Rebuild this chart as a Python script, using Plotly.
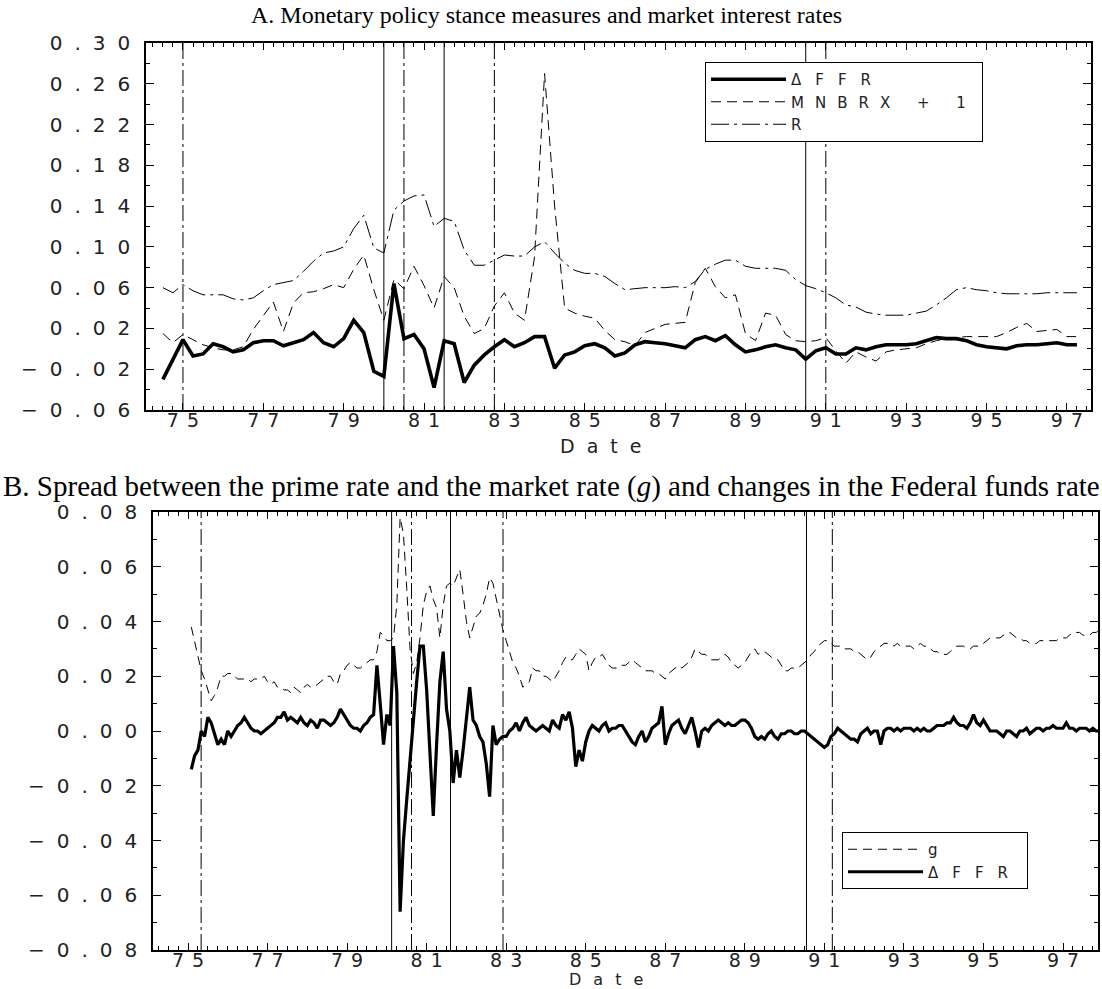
import pandas as pd
import plotly.graph_objects as go

# ---------------- Panel A: quarterly, 1974Q3 - 1997Q2 ----------------
quarters_a = pd.period_range("1974Q3", "1997Q2", freq="Q")

dffr_a = [
    -0.030, -0.011, 0.009, -0.007, -0.005, 0.005, 0.002, -0.003, -0.001, 0.006,
    0.008, 0.008, 0.003, 0.006, 0.009, 0.016, 0.006, 0.002, 0.010, 0.028,
    0.016, -0.022, -0.027, 0.064, 0.010, 0.014, 0.000, -0.038, 0.008, 0.005,
    -0.033, -0.016, -0.006, 0.002, 0.009, 0.002, 0.006, 0.012, 0.012, -0.019,
    -0.006, -0.003, 0.003, 0.005, 0.001, -0.007, -0.004, 0.004, 0.007, 0.006,
    0.005, 0.003, 0.001, 0.009, 0.012, 0.008, 0.013, 0.004, -0.003, -0.001,
    0.002, 0.004, 0.001, -0.001, -0.010, -0.002, 0.001, -0.005, -0.005, 0.001,
    -0.001, 0.002, 0.004, 0.004, 0.004, 0.005, 0.008, 0.011, 0.010, 0.010,
    0.008, 0.004, 0.002, 0.001, 0.000, 0.003, 0.004, 0.004, 0.005, 0.006,
    0.004, 0.004,
]

mnbrx_a = [
    0.015, 0.006, 0.014, 0.009, 0.004, 0.001, -0.001, -0.001, 0.002, 0.019,
    0.033, 0.046, 0.017, 0.045, 0.055, 0.056, 0.059, 0.063, 0.060, 0.078,
    0.092, 0.058, 0.028, 0.068, 0.059, 0.081, 0.062, 0.040, 0.071, 0.060,
    0.032, 0.015, 0.020, 0.042, 0.055, 0.035, 0.028, 0.090, 0.270, 0.140,
    0.040, 0.035, 0.032, 0.030, 0.018, 0.009, 0.007, 0.003, 0.016, 0.020,
    0.024, 0.025, 0.026, 0.065, 0.079, 0.061, 0.050, 0.053, 0.015, 0.008,
    0.035, 0.033, 0.014, 0.008, 0.007, 0.008, 0.011, -0.002, -0.014, -0.003,
    -0.008, -0.012, -0.003, -0.001, 0.000, 0.001, 0.005, 0.008, 0.010, 0.011,
    0.012, 0.012, 0.012, 0.012, 0.016, 0.021, 0.025, 0.017, 0.018, 0.019,
    0.012, 0.012,
]

r_a = [
    0.060, 0.055, 0.063, 0.057, 0.053, 0.053, 0.053, 0.049, 0.048, 0.050,
    0.057, 0.063, 0.065, 0.067, 0.076, 0.086, 0.094, 0.096, 0.100, 0.118,
    0.131, 0.099, 0.094, 0.136, 0.145, 0.150, 0.151, 0.120, 0.128, 0.125,
    0.097, 0.082, 0.082, 0.087, 0.092, 0.091, 0.091, 0.100, 0.105, 0.094,
    0.084, 0.077, 0.074, 0.074, 0.071, 0.064, 0.058, 0.059, 0.060, 0.060,
    0.060, 0.061, 0.060, 0.066, 0.078, 0.083, 0.087, 0.087, 0.081, 0.079,
    0.079, 0.079, 0.077, 0.068, 0.062, 0.059, 0.055, 0.050, 0.043, 0.041,
    0.036, 0.034, 0.033, 0.033, 0.033, 0.035, 0.037, 0.043, 0.050, 0.058,
    0.060, 0.058, 0.057, 0.055, 0.054, 0.054, 0.054, 0.054, 0.055, 0.055,
    0.055, 0.055,
]

# ---------------- Panel B: monthly, 1975:02 - 1997:12 ----------------
months_b = pd.period_range("1975-02", "1997-12", freq="M")

dffr_b = [
    # 1975 (Feb-Dec)
    -0.014, -0.009, -0.007, 0.000, -0.002, 0.005, 0.003, -0.001, -0.005, -0.003, -0.005,
    # 1976
    0.000, -0.002, 0.000, 0.002, 0.003, 0.005, 0.003, 0.001, 0.000, 0.000, -0.001, 0.000,
    # 1977
    0.001, 0.002, 0.003, 0.005, 0.005, 0.007, 0.004, 0.005, 0.004, 0.003, 0.005, 0.003,
    # 1978
    0.002, 0.004, 0.003, 0.001, 0.004, 0.004, 0.003, 0.002, 0.003, 0.005, 0.008, 0.006,
    # 1979
    0.004, 0.002, 0.001, 0.001, 0.000, 0.002, 0.003, 0.005, 0.006, 0.024, 0.010, -0.005,
    # 1980
    0.006, 0.002, 0.031, 0.014, -0.066, -0.040, -0.025, -0.010, 0.004, 0.018, 0.031, 0.031,
    # 1981
    0.015, -0.010, -0.031, -0.005, 0.018, 0.029, 0.008, 0.000, -0.019, -0.007, -0.017, -0.007,
    # 1982
    0.004, 0.016, 0.004, 0.002, -0.002, -0.004, -0.012, -0.024, 0.002, -0.005, -0.003, -0.002,
    # 1983
    -0.002, 0.000, 0.001, 0.003, 0.000, 0.003, 0.005, 0.002, 0.001, 0.000, 0.001, 0.002,
    # 1984
    0.001, 0.000, 0.004, 0.002, 0.001, 0.006, 0.004, 0.007, 0.001, -0.013, -0.007, -0.011,
    # 1985
    -0.004, 0.000, 0.002, 0.001, 0.000, 0.002, 0.003, 0.000, 0.001, 0.001, 0.002, 0.002,
    # 1986
    0.000, -0.002, -0.004, -0.005, -0.002, 0.000, -0.004, -0.002, 0.001, 0.002, 0.003, 0.009,
    # 1987
    -0.005, -0.001, 0.002, 0.003, 0.004, 0.001, -0.001, 0.002, 0.005, 0.000, -0.006, 0.000,
    # 1988
    0.001, 0.000, 0.002, 0.003, 0.004, 0.003, 0.002, 0.003, 0.002, 0.002, 0.003, 0.004,
    # 1989
    0.004, 0.003, 0.001, -0.002, -0.003, -0.002, -0.003, -0.001, 0.000, -0.002, -0.003, -0.001,
    # 1990
    -0.001, 0.000, 0.000, -0.001, -0.001, 0.000, 0.000, -0.001, -0.002, -0.003, -0.004, -0.005,
    # 1991
    -0.006, -0.005, -0.002, -0.001, 0.001, 0.000, -0.001, -0.002, -0.003, -0.003, -0.004, -0.001,
    # 1992
    0.000, 0.001, -0.001, 0.000, 0.000, -0.005, 0.000, 0.001, 0.001, 0.000, 0.001, 0.000,
    # 1993
    0.001, 0.001, 0.001, 0.000, 0.001, 0.000, 0.001, 0.000, 0.000, 0.001, 0.002, 0.002,
    # 1994
    0.002, 0.003, 0.003, 0.005, 0.003, 0.002, 0.002, 0.001, 0.003, 0.006, 0.003, 0.002,
    # 1995
    0.004, 0.002, 0.000, 0.000, 0.000, -0.001, -0.002, 0.000, 0.000, -0.001, -0.002, 0.000,
    # 1996
    0.000, 0.001, -0.001, 0.000, 0.001, 0.001, 0.000, 0.001, 0.001, 0.002, 0.001, 0.001,
    # 1997
    0.001, 0.003, 0.001, 0.001, 0.000, 0.001, 0.001, 0.001, 0.000, 0.001, 0.000, 0.000,
]

g_b = [
    # 1975 (Feb-Dec)
    0.038, 0.033, 0.027, 0.022, 0.019, 0.015, 0.011, 0.013, 0.016, 0.020, 0.020,
    # 1976
    0.021, 0.021, 0.020, 0.019, 0.019, 0.019, 0.019, 0.018, 0.019, 0.019, 0.019, 0.020,
    # 1977
    0.018, 0.017, 0.018, 0.016, 0.016, 0.015, 0.015, 0.014, 0.016, 0.015, 0.014, 0.016,
    # 1978
    0.017, 0.016, 0.016, 0.017, 0.018, 0.019, 0.020, 0.020, 0.018, 0.017, 0.021, 0.022,
    # 1979
    0.024, 0.025, 0.024, 0.023, 0.023, 0.024, 0.025, 0.026, 0.026, 0.029, 0.036, 0.035,
    # 1980
    0.033, 0.033, 0.034, 0.046, 0.078, 0.072, 0.052, 0.030, 0.021, 0.025, 0.034, 0.046,
    # 1981
    0.051, 0.053, 0.048, 0.045, 0.034, 0.046, 0.053, 0.054, 0.053, 0.056, 0.059, 0.050,
    # 1982
    0.040, 0.034, 0.038, 0.042, 0.043, 0.046, 0.050, 0.056, 0.054, 0.048, 0.043, 0.037,
    # 1983
    0.033, 0.029, 0.025, 0.023, 0.020, 0.016, 0.017, 0.018, 0.023, 0.022, 0.022, 0.020,
    # 1984
    0.020, 0.019, 0.018, 0.020, 0.022, 0.025, 0.027, 0.026, 0.026, 0.028, 0.030, 0.029,
    # 1985
    0.028, 0.022, 0.025, 0.027, 0.027, 0.028, 0.026, 0.024, 0.023, 0.023, 0.023, 0.024,
    # 1986
    0.024, 0.025, 0.026, 0.025, 0.024, 0.023, 0.022, 0.022, 0.022, 0.021, 0.021, 0.020,
    # 1987
    0.019, 0.021, 0.022, 0.023, 0.024, 0.023, 0.024, 0.025, 0.027, 0.030, 0.029, 0.028,
    # 1988
    0.028, 0.027, 0.026, 0.026, 0.026, 0.027, 0.028, 0.027, 0.025, 0.024, 0.023, 0.024,
    # 1989
    0.025, 0.027, 0.029, 0.030, 0.028, 0.029, 0.029, 0.028, 0.027, 0.026, 0.026, 0.024,
    # 1990
    0.022, 0.022, 0.023, 0.023, 0.023, 0.024, 0.025, 0.026, 0.028, 0.029, 0.031, 0.032,
    # 1991
    0.033, 0.033, 0.032, 0.031, 0.031, 0.031, 0.030, 0.030, 0.030, 0.029, 0.029, 0.028,
    # 1992
    0.027, 0.026, 0.027, 0.029, 0.030, 0.031, 0.032, 0.032, 0.032, 0.031, 0.032, 0.031,
    # 1993
    0.031, 0.031, 0.031, 0.030, 0.031, 0.032, 0.031, 0.031, 0.030, 0.029, 0.029, 0.028,
    # 1994
    0.028, 0.028, 0.029, 0.030, 0.031, 0.031, 0.031, 0.030, 0.030, 0.031, 0.031, 0.031,
    # 1995
    0.032, 0.033, 0.034, 0.034, 0.034, 0.034, 0.035, 0.035, 0.036, 0.035, 0.034, 0.034,
    # 1996
    0.033, 0.033, 0.032, 0.032, 0.032, 0.033, 0.033, 0.033, 0.033, 0.033, 0.033, 0.034,
    # 1997
    0.034, 0.034, 0.035, 0.036, 0.036, 0.036, 0.035, 0.035, 0.035, 0.036, 0.036, 0.037,
]

# Business-cycle reference dates (decimal years): peaks solid, troughs dash-dot
peaks_a = [1980.0, 1981.5, 1990.5]
troughs_a = [1975.0, 1980.5, 1982.75, 1991.0]
peaks_b = [1980.12, 1981.6, 1990.55]
troughs_b = [1975.33, 1980.62, 1982.92, 1991.2]

# Axis ticks
year_ticks = list(range(1975, 1998, 2))
year_text = ["75", "77", "79", "81", "83", "85", "87", "89", "91", "93", "95", "97"]
a_yticks = [-0.06, -0.02, 0.02, 0.06, 0.10, 0.14, 0.18, 0.22, 0.26, 0.30]
a_ytext = ["\u22120.06", "\u22120.02", "0.02", "0.06", "0.10", "0.14", "0.18", "0.22", "0.26", "0.30"]
b_yticks = [-0.08, -0.06, -0.04, -0.02, 0.00, 0.02, 0.04, 0.06, 0.08]
b_ytext = ["\u22120.08", "\u22120.06", "\u22120.04", "\u22120.02", "0.00", "0.02", "0.04", "0.06", "0.08"]

title_a = "A. Monetary policy stance measures and market interest rates"
title_b = ("B. Spread between the prime rate and the market rate (<i>g</i>) "
           "and changes in the Federal funds rate")
x_title = "Date"

W, H = 1102, 989


def spaced(s, px):
    return f'<span style="letter-spacing:{px}px">{s}</span>'


def qyear(p):
    return p.year + (p.quarter - 1) / 4.0


def myear(p):
    return p.year + (p.month - 1) / 12.0


xa = [qyear(p) for p in quarters_a]
xb = [myear(p) for p in months_b]

SANS = "DejaVu Sans"
SERIF = "Liberation Serif"
INK = "black"
LABEL = "#222"
DASH = "10px,6px"
DASHDOT = "18px,5px,3px,5px"
VLINE_DASHDOT = "16px,4px,3px,4px"

fig = go.Figure()

# Panel A traces
fig.add_trace(go.Scatter(x=xa, y=dffr_a, mode="lines", name=spaced("\u0394FFR", 14),
                         line=dict(color=INK, width=3.6), xaxis="x", yaxis="y", legend="legend"))
fig.add_trace(go.Scatter(x=xa, y=mnbrx_a, mode="lines", name=spaced("MNBRX + 1", 11),
                         line=dict(color=INK, width=1, dash=DASH), xaxis="x", yaxis="y",
                         legend="legend"))
fig.add_trace(go.Scatter(x=xa, y=r_a, mode="lines", name=spaced("R", 14),
                         line=dict(color=INK, width=1, dash=DASHDOT), xaxis="x",
                         yaxis="y", legend="legend"))

# Panel B traces
fig.add_trace(go.Scatter(x=xb, y=g_b, mode="lines", name=spaced("g", 14),
                         line=dict(color=INK, width=1, dash="9px,6px"), xaxis="x2", yaxis="y2",
                         legend="legend2"))
fig.add_trace(go.Scatter(x=xb, y=dffr_b, mode="lines", name=spaced("\u0394FFR", 14),
                         line=dict(color=INK, width=3.2), xaxis="x2", yaxis="y2",
                         legend="legend2"))

# Recession reference lines
for xref, yref, peaks, troughs in (("x", "y domain", peaks_a, troughs_a),
                                   ("x2", "y2 domain", peaks_b, troughs_b)):
    for d in peaks:
        fig.add_shape(type="line", xref=xref, yref=yref, x0=d, x1=d, y0=0, y1=1,
                      line=dict(color=INK, width=1), layer="below")
    for d in troughs:
        fig.add_shape(type="line", xref=xref, yref=yref, x0=d, x1=d, y0=0, y1=1,
                      line=dict(color=INK, width=1, dash=VLINE_DASHDOT), layer="below")

axis_common = dict(showline=True, linecolor=INK, linewidth=1.5, mirror="allticks",
                   ticks="inside", tickcolor=INK, showgrid=False, zeroline=False,
                   automargin=False)


def xaxis_cfg(domain, rng, anchor):
    return dict(axis_common, domain=domain, range=rng, anchor=anchor,
                tickmode="array", tickvals=year_ticks,
                ticktext=[spaced(t, 8) for t in year_text], ticklen=7,
                tickfont=dict(family=SANS, size=19, color=LABEL),
                ticklabelstandoff=-8, ticklabelshift=4,
                minor=dict(ticks="inside", ticklen=4, tickmode="linear", tick0=1974,
                           dtick=0.25, tickcolor=INK, showgrid=False))


def yaxis_cfg(domain, rng, anchor, vals, texts, minor_step):
    return dict(axis_common, domain=domain, range=rng, anchor=anchor,
                tickmode="array", tickvals=vals,
                ticktext=[spaced(t, 12) for t in texts], ticklen=8,
                tickfont=dict(family=SANS, size=20, color=LABEL),
                ticklabelstandoff=-2,
                minor=dict(ticks="inside", ticklen=4, tickmode="linear", tick0=0,
                           dtick=minor_step, tickcolor=INK, showgrid=False))


def px_x(v):
    return v / W


def px_y(v):
    return 1 - v / H


legend_font = dict(family=SANS, size=15, color=LABEL)

fig.update_layout(
    template="none",
    width=W, height=H,
    margin=dict(l=0, r=0, t=0, b=0, autoexpand=False),
    paper_bgcolor="white", plot_bgcolor="white",
    xaxis=xaxis_cfg([px_x(146), px_x(1091)], [1974.08, 1997.60], "y"),
    yaxis=yaxis_cfg([px_y(410), px_y(43)], [-0.06, 0.30], "x", a_yticks, a_ytext, 0.02),
    xaxis2=xaxis_cfg([px_x(153), px_x(1098)], [1974.12, 1997.88], "y2"),
    yaxis2=yaxis_cfg([px_y(950), px_y(512)], [-0.08, 0.08], "x2", b_yticks, b_ytext, 0.01),
    legend=dict(x=px_x(705), y=px_y(62), xanchor="left", yanchor="top",
                bordercolor=INK, borderwidth=1, bgcolor="white", itemwidth=75,
                font=legend_font, tracegroupgap=0),
    legend2=dict(x=px_x(842), y=px_y(832), xanchor="left", yanchor="top",
                 bordercolor=INK, borderwidth=1, bgcolor="white", itemwidth=75,
                 font=legend_font, tracegroupgap=0),
    annotations=[
        dict(text=title_a, xref="paper", yref="paper", x=px_x(546), y=px_y(15),
             xanchor="center", yanchor="middle", showarrow=False,
             font=dict(family=SERIF, size=24, color=INK)),
        dict(text=title_b, xref="paper", yref="paper", x=px_x(551), y=px_y(486),
             xanchor="center", yanchor="middle", showarrow=False,
             font=dict(family=SERIF, size=29, color=INK)),
        dict(text=spaced(x_title, 12), xref="paper", yref="paper", x=px_x(606), y=px_y(446),
             xanchor="center", yanchor="middle", showarrow=False,
             font=dict(family=SANS, size=19, color=LABEL)),
        dict(text=spaced(x_title, 12), xref="paper", yref="paper", x=px_x(612), y=px_y(979),
             xanchor="center", yanchor="middle", showarrow=False,
             font=dict(family=SANS, size=16, color=LABEL)),
    ],
)

fig.write_html("out.html")
